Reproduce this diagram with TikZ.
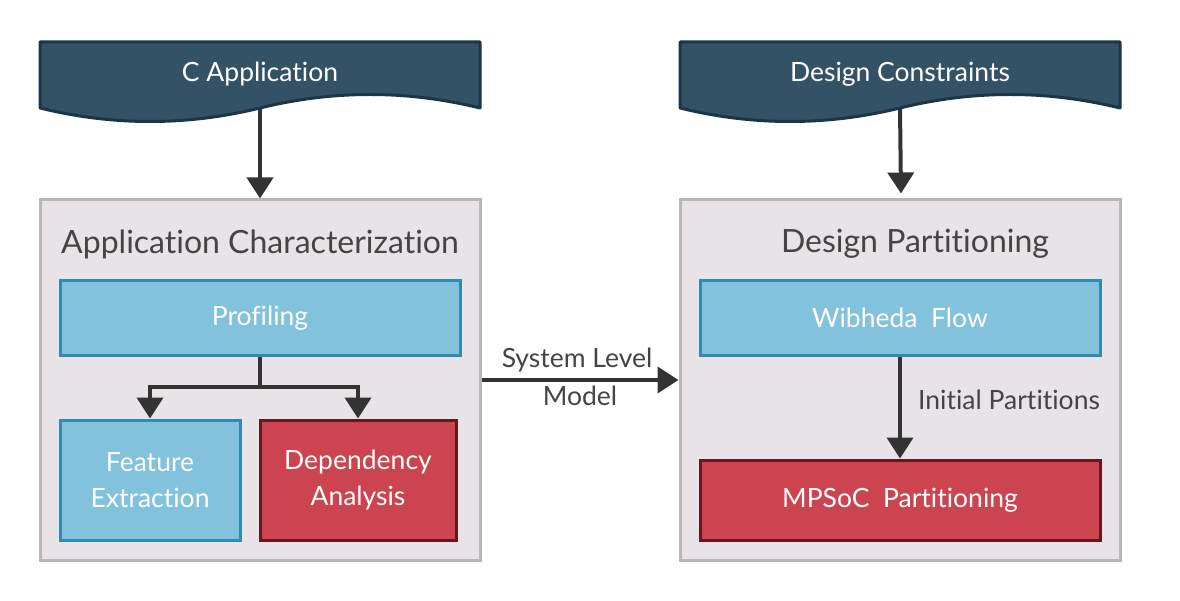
\documentclass[tikz,border=0pt]{standalone}
\usepackage{fontspec}
\setmainfont{Lato}[Ligatures=NoCommon]
\usetikzlibrary{arrows.meta}
\definecolor{docfill}{HTML}{335266}
\definecolor{docline}{HTML}{1C3647}
\definecolor{contfill}{HTML}{E7E3E7}
\definecolor{contline}{HTML}{B9B7B9}
\definecolor{bluefill}{HTML}{82C2DC}
\definecolor{blueline}{HTML}{2F8BAF}
\definecolor{redfill}{HTML}{CC444F}
\definecolor{redline}{HTML}{6B161B}
\definecolor{arrowc}{HTML}{333333}
\definecolor{textc}{HTML}{444444}
\tikzset{
  container/.style={draw=contline, fill=contfill, line width=3pt, inner sep=0pt},
  bluebox/.style={draw=blueline, fill=bluefill, line width=3pt, text=white, font=\fontsize{26.5}{36}\selectfont, align=center, inner sep=0pt},
  redbox/.style={draw=redline, fill=redfill, line width=3pt, text=white, font=\fontsize{26.5}{36}\selectfont, align=center, inner sep=0pt},
  doctext/.style={text=white, font=\fontsize{26.5}{32}\selectfont, inner sep=0pt},
  docshape/.style={draw=docline, fill=docfill, line width=3pt, line join=round},
  titletext/.style={text=textc, font=\fontsize{32}{38}\selectfont, inner sep=0pt},
  lbl/.style={text=textc, font=\fontsize{26.5}{32}\selectfont, align=center, inner sep=0pt},
  conn/.style={draw=arrowc, line width=4pt, -{Triangle[width=26pt,length=21pt]}},
}
\begin{document}
\begin{tikzpicture}[x=1pt,y=-1pt]
\useasboundingbox (0,0) rectangle (1180,601);

% containers
\node[container, minimum width=440pt, minimum height=360pt] (contA) at (260,380) {};
\node[container, minimum width=440pt, minimum height=360pt] (contB) at (900,380) {};
\node[titletext] (titleA) at (260,244) {Application Characterization};
\node[titletext] (titleB) at (915,244) {Design Partitioning};

% inner boxes
\node[bluebox, minimum width=400pt, minimum height=75pt] (prof) at (260,318) {Profiling};
\node[bluebox, minimum width=180pt, minimum height=120pt] (feat) at (150,480) {Feature\\Extraction};
\node[redbox, minimum width=196pt, minimum height=120pt] (dep) at (358,480) {Dependency\\Analysis};
\node[bluebox, minimum width=400pt, minimum height=75pt] (wib) at (900,318) {Wibheda~~Flow};
\node[redbox, minimum width=400pt, minimum height=80pt] (mpsoc) at (900,500) {MPSoC~~Partitioning};

% document-shaped inputs
\coordinate (docAbot) at (260,108);
\coordinate (docBbot) at (900,108);
\draw[conn] (docAbot) -- (contA.north);
\draw[conn] (docBbot) -- ([xshift=1pt,yshift=5pt]contB.north);
\draw[docshape] (40,42) -- (480,42) -- (480,108) .. controls (406.7,90) and (333.3,90) .. (260,108) .. controls (186.7,126) and (113.3,126) .. (40,108) -- cycle;
\draw[docshape] (680,42) -- (1120,42) -- (1120,108) .. controls (1046.7,90) and (973.3,90) .. (900,108) .. controls (826.7,126) and (753.3,126) .. (680,108) -- cycle;
\node[doctext] (docA) at (260,74) {C Application};
\node[doctext] (docB) at (900,74) {Design Constraints};

% connectors
\coordinate (split) at (260,387);
\draw[conn] (prof.south) -- (split) -| (feat.north);
\draw[conn] (split) -| (dep.north);
\draw[conn] (contA.east) -- (contB.west);
\node[lbl] (sysl) at (577,360) {System Level};
\node[lbl] (sysm) at (580,396) {Model};
\draw[conn] (wib.south) -- (mpsoc.north);
\node[lbl, anchor=west] (initp) at (918,400) {Initial Partitions};
\end{tikzpicture}
\end{document}
